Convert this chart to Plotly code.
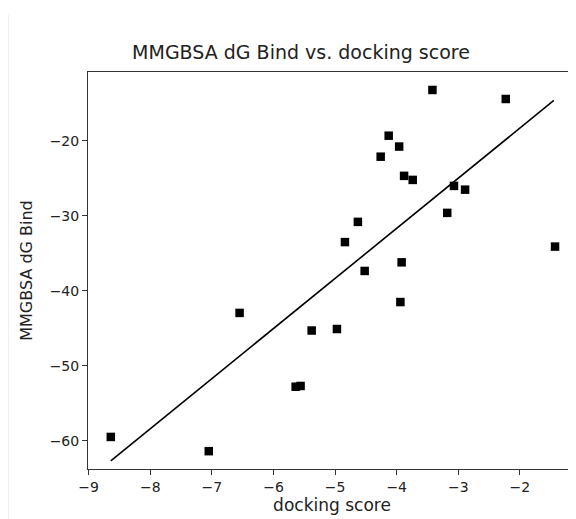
import plotly.graph_objects as go

docking_score = [-8.64, -7.05, -6.55, -5.64, -5.56, -5.38, -4.97, -4.84, -4.63, -4.52,
                 -3.42, -2.23, -4.13, -3.96, -4.26, -3.88, -3.74, -3.07, -2.89, -3.18,
                 -1.43, -3.92, -3.94]
dg_bind = [-59.5, -61.4, -42.95, -52.8, -52.7, -45.3, -45.1, -33.5, -30.8, -37.35,
           -13.2, -14.4, -19.3, -20.75, -22.1, -24.66, -25.2, -26.0, -26.5, -29.6,
           -34.1, -36.2, -41.5]
fit_x = [-8.64, -1.45]
fit_y = [-62.7, -14.6]

x_ticks = [-9, -8, -7, -6, -5, -4, -3, -2]
y_ticks = [-60, -50, -40, -30, -20]

# page body has an 8px margin, so the figure is sized to fill the rest
W, H = 568, 511
L, T, B, R = 80, 64, 50, 0
PW, PH = W - L - R, H - T - B

fig = go.Figure()
fig.add_trace(go.Scatter(x=fit_x, y=fit_y, mode="lines",
                         line=dict(color="black", width=1.6), showlegend=False))
fig.add_trace(go.Scatter(x=docking_score, y=dg_bind, mode="markers",
                         marker=dict(symbol="square", size=8.5, color="black"),
                         showlegend=False))

font = "DejaVu Sans, sans-serif"
fig.update_layout(
    width=W, height=H,
    margin=dict(l=L, r=R, t=T, b=B),
    paper_bgcolor="white", plot_bgcolor="white",
    font=dict(family=font, color="#222"),
    title=dict(text="MMGBSA dG Bind vs. docking score", font=dict(size=19, color="#222"),
               x=293 / W, xref="container", xanchor="center",
               y=1 - 44 / H, yref="container", yanchor="middle"),
    xaxis=dict(range=[-9.01, -1.09], tickvals=x_ticks, ticks="outside", ticklen=5,
               tickcolor="#333", showline=True, linecolor="#333", linewidth=1,
               mirror=True, showgrid=False, zeroline=False,
               tickfont=dict(size=14, color="#222"),
               title=dict(text="docking score", font=dict(size=17, color="#222"), standoff=5)),
    yaxis=dict(range=[-63.78, -10.8], tickvals=y_ticks, ticks="outside", ticklen=5,
               tickcolor="#333", showline=True, linecolor="#333", linewidth=1,
               showgrid=False, zeroline=False,
               tickfont=dict(size=14, color="#222"),
               title=dict(text="MMGBSA dG Bind", font=dict(size=16, color="#222"), standoff=13)),
    shapes=[dict(type="line", xref="paper", yref="paper",
                 x0=(0.5 - L) / PW, x1=(0.5 - L) / PW,
                 y0=-B / PH, y1=(PH + T - 7) / PH,
                 line=dict(color="#eeeeee", width=1))],
)

fig.write_html("out.html")
